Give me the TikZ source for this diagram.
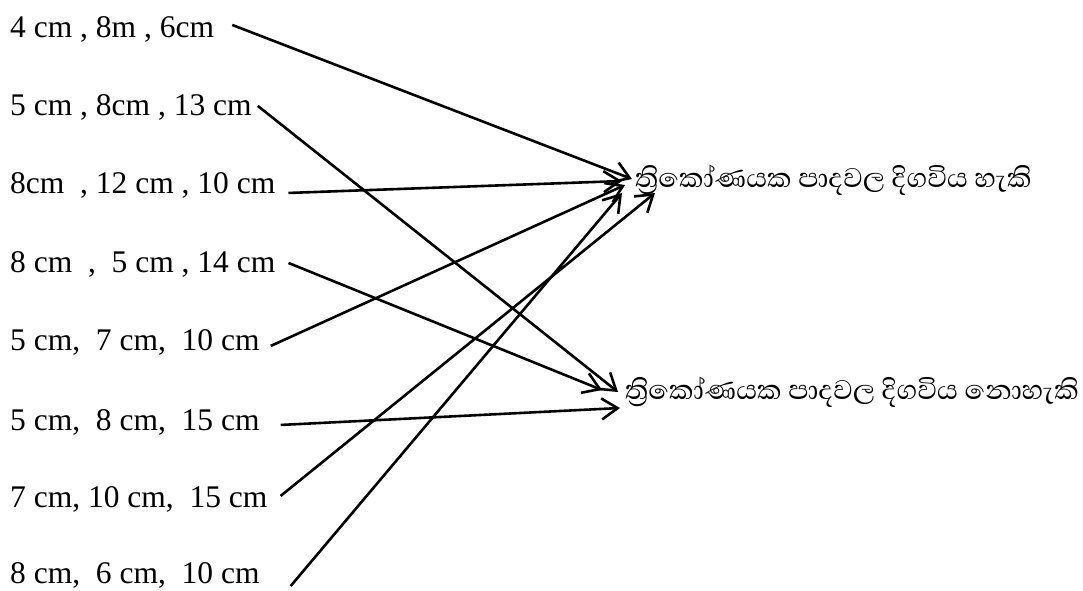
\documentclass[tikz,border=0pt]{standalone}
\usepackage{fontspec}
\setmainfont{Liberation Serif}
\newfontfamily\sinhalafont[Script=Sinhala]{Abhaya Libre}
\usetikzlibrary{arrows.meta}

\begin{document}
\begin{tikzpicture}[x=1pt,y=-1pt,every node/.style={inner sep=0pt,font=\fontsize{31.5}{38}\selectfont},
		every edge/.style={draw, line width=2.6pt, -{Straight Barb[length=16pt,width=21pt]}}]
		\useasboundingbox (0,0) rectangle (1083,590);
		\node[anchor=base west] (r1) at (10,37) {4 cm , 8m , 6cm};
		\node[anchor=base west] (r2) at (10,115) {5 cm , 8cm , 13 cm};
		\node[anchor=base west] (r3) at (10,193) {8cm\ \ , 12 cm , 10 cm};
		\node[anchor=base west] (r4) at (10,272) {8 cm\ \ ,\ \ 5 cm , 14 cm};
		\node[anchor=base west] (r5) at (10,350) {5 cm,\ \ 7 cm,\ \ 10 cm};
		\node[anchor=base west] (r6) at (10,430) {5 cm,\ \ 8 cm,\ \ 15 cm};
		\node[anchor=base west] (r7) at (10,507) {7 cm, 10 cm,\ \ 15 cm};
		\node[anchor=base west] (r8) at (10,583) {8 cm,\ \ 6 cm,\ \ 10 cm};
		
		\node[anchor=west,font=\fontsize{34.5}{40}\sinhalafont] (c1) at (635,180) {ත්^^^^200dරිකෝණයක පාදවල දිගවිය හැකි};
		\node[anchor=west,font=\fontsize{34.5}{40}\sinhalafont] (c2) at (625,392) {ත්^^^^200dරිකෝණයක පාදවල දිගවිය නොහැකි};
		
		\draw ([shift={(18,-4)}]r1.east) edge ([shift={(-3,-1)}]c1.west);
		\draw ([shift={(6,-1)}]r2.east) edge ([shift={(-7,0)}]c2.west);
		\draw ([shift={(13,8)}]r3.east) edge ([shift={(-13,1)}]c1.west);
		\draw ([shift={(13,-1)}]r4.east) edge ([shift={(-23,-2)}]c2.west);
		\draw ([shift={(11,4)}]r5.east) edge ([shift={(-10,5)}]c1.west);
		\draw ([shift={(21,3)}]r6.east) edge ([shift={(-5,16)}]c2.west);
		\draw ([shift={(13,-3)}]r7.east) edge ([shift={(20,13)}]c1.west);
		\draw ([shift={(31,11)}]r8.east) edge ([shift={(-13,13)}]c1.west);
	\end{tikzpicture}
\end{document}
